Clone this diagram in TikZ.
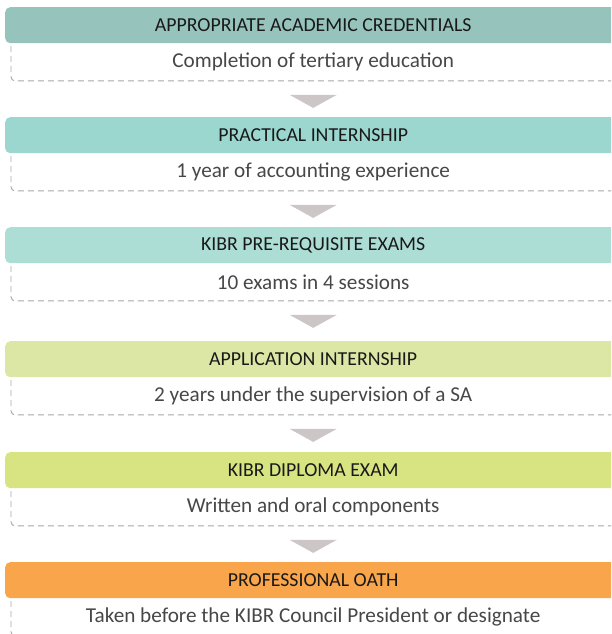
\documentclass[tikz,border=0pt]{standalone}
\usepackage{fontspec}
\setmainfont{Carlito}
\usetikzlibrary{positioning}

\definecolor{headA}{HTML}{96C4BD}
\definecolor{headB}{HTML}{9BD7CF}
\definecolor{headC}{HTML}{ADDED6}
\definecolor{headD}{HTML}{DCE7A6}
\definecolor{headE}{HTML}{D8E482}
\definecolor{headF}{HTML}{F9A54B}
\definecolor{dashgray}{HTML}{A6A6A6}
\definecolor{trigray}{HTML}{CCC6C6}

\tikzset{
  head/.style={rectangle, rounded corners=5pt, anchor=north west, inner sep=0pt,
    minimum width=616pt, minimum height=36pt, text=black!90,
    font=\fontsize{19.8}{23}\selectfont},
  sub/.style={rectangle, anchor=north west, inner sep=0pt,
    minimum width=604pt, minimum height=37.5pt, text=black!72,
    font=\fontsize{21.2}{25}\selectfont},
  frame/.style={draw=dashgray, dashed, dash pattern=on 6pt off 4pt, line width=0.9pt, rounded corners=4pt},
  tri/.style={fill=trigray}
}

\begin{document}
\begin{tikzpicture}[x=1pt, y=-1pt]
\clip (0,0) rectangle (611,634);

\node (head1) [head, fill=headA] at (5,7) {APPROPRIATE ACADEMIC CREDENTIALS};
\node (sub1) [sub] at (11,43) {Completion of tertiary education};
\node (head2) [head, fill=headB] at (5,117) {PRACTICAL INTERNSHIP};
\node (sub2) [sub] at (11,153) {1 year of accounting experience};
\node (head3) [head, fill=headC] at (5,227) {KIBR PRE-REQUISITE EXAMS};
\node (sub3) [sub] at (11,263) {10 exams in 4 sessions};
\node (head4) [head, fill=headD] at (5,341) {APPLICATION INTERNSHIP};
\node (sub4) [sub] at (11,377) {2 years under the supervision of a SA};
\node (head5) [head, fill=headE] at (5,452) {KIBR DIPLOMA EXAM};
\node (sub5) [sub] at (11,488) {Written and oral components};
\node (head6) [head, fill=headF] at (5,562) {PROFESSIONAL OATH};
\node (sub6) [sub] at (11,598) {Taken before the KIBR Council President or designate};

% dashed frames under each heading
\draw [frame] ([yshift=-3pt]sub1.north west) -- (sub1.south west) -- (sub1.south east);
\draw [frame] ([yshift=-3pt]sub2.north west) -- (sub2.south west) -- (sub2.south east);
\draw [frame] ([yshift=-3pt]sub3.north west) -- (sub3.south west) -- (sub3.south east);
\draw [frame] ([yshift=-3pt]sub4.north west) -- (sub4.south west) -- (sub4.south east);
\draw [frame] ([yshift=-3pt]sub5.north west) -- (sub5.south west) -- (sub5.south east);
\draw [frame] ([yshift=-3pt]sub6.north west) -- (sub6.south west) -- (sub6.south east);

% down arrows between the steps
\fill [tri] ([yshift=-14pt]sub1.south) ++(-23.5,0) -- ++(47,0) -- ++(-23.5,13) -- cycle;
\fill [tri] ([yshift=-14pt]sub2.south) ++(-23.5,0) -- ++(47,0) -- ++(-23.5,13) -- cycle;
\fill [tri] ([yshift=-14pt]sub3.south) ++(-23.5,0) -- ++(47,0) -- ++(-23.5,13) -- cycle;
\fill [tri] ([yshift=-14pt]sub4.south) ++(-23.5,0) -- ++(47,0) -- ++(-23.5,13) -- cycle;
\fill [tri] ([yshift=-14pt]sub5.south) ++(-23.5,0) -- ++(47,0) -- ++(-23.5,13) -- cycle;
\end{tikzpicture}
\end{document}
